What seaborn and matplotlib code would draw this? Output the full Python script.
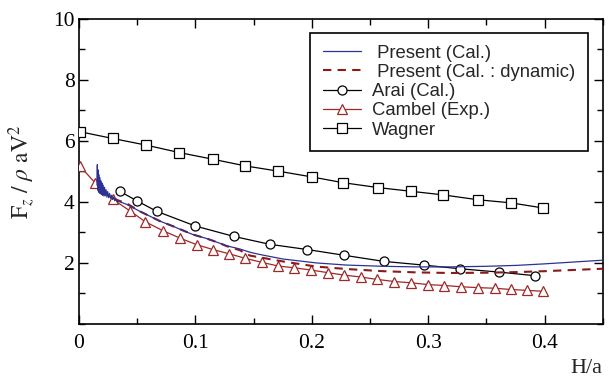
import matplotlib
matplotlib.use("Agg")
import matplotlib.pyplot as plt
import seaborn as sns
import pandas as pd
from matplotlib.ticker import MultipleLocator

# ---------------- data ----------------
present_x = [0.0155, 0.0158, 0.0161, 0.0164, 0.0167, 0.0170, 0.0174, 0.0178, 0.0182, 0.0187,
             0.0192, 0.0197, 0.0202, 0.0208, 0.0214, 0.0220, 0.0226, 0.0233, 0.0240, 0.0247,
             0.0255, 0.0263, 0.0271, 0.0280, 0.0289, 0.0298, 0.0308, 0.0318, 0.0328, 0.0340,
             0.041, 0.0524, 0.060, 0.0696, 0.081, 0.090, 0.098, 0.1097, 0.120,
             0.127, 0.138, 0.147, 0.155, 0.175, 0.204, 0.230, 0.261, 0.290, 0.319,
             0.350, 0.376, 0.400, 0.425, 0.450]
present_y = [4.55, 5.22, 4.40, 5.05, 4.35, 4.90, 4.30, 4.80, 4.28, 4.70,
             4.25, 4.62, 4.22, 4.55, 4.20, 4.48, 4.20, 4.40, 4.16, 4.34,
             4.14, 4.28, 4.12, 4.22, 4.08, 4.16, 4.04, 4.10, 4.00, 4.02,
             3.92, 3.69, 3.55, 3.37, 3.20, 3.05, 2.93, 2.80, 2.66,
             2.56, 2.46, 2.35, 2.28, 2.13, 2.00, 1.93, 1.89, 1.87, 1.87,
             1.89, 1.92, 1.97, 2.03, 2.09]

dynamic_x = [0.030, 0.041, 0.0524, 0.0696, 0.081, 0.098, 0.1097, 0.120, 0.127, 0.138,
             0.147, 0.175, 0.204, 0.230, 0.261, 0.290, 0.319, 0.350, 0.376, 0.400,
             0.425, 0.450]
dynamic_y = [4.10, 3.95, 3.69, 3.37, 3.20, 2.93, 2.80, 2.66, 2.55, 2.42,
             2.24, 2.05, 1.88, 1.80, 1.73, 1.69, 1.67, 1.68, 1.70, 1.73,
             1.77, 1.81]

arai_x = [0.035, 0.050, 0.067, 0.100, 0.133, 0.164, 0.196, 0.228, 0.262, 0.296, 0.327, 0.361, 0.392]
arai_y = [4.35, 4.03, 3.69, 3.21, 2.87, 2.61, 2.44, 2.25, 2.05, 1.93, 1.81, 1.70, 1.58]

cambel_x = [0.001, 0.014, 0.029, 0.044, 0.057, 0.072, 0.087, 0.101, 0.115, 0.129,
            0.143, 0.157, 0.171, 0.185, 0.199, 0.214, 0.228, 0.242, 0.256, 0.271,
            0.285, 0.300, 0.314, 0.328, 0.343, 0.357, 0.371, 0.385, 0.399]
cambel_y = [5.17, 4.62, 4.09, 3.70, 3.35, 3.06, 2.81, 2.60, 2.44, 2.30,
            2.15, 2.02, 1.90, 1.84, 1.77, 1.68, 1.60, 1.54, 1.46, 1.39,
            1.35, 1.29, 1.26, 1.22, 1.19, 1.17, 1.13, 1.10, 1.07]

wagner_x = [0.001, 0.029, 0.058, 0.086, 0.115, 0.143, 0.171, 0.200, 0.227, 0.257,
            0.285, 0.313, 0.343, 0.371, 0.399]
wagner_y = [6.30, 6.08, 5.86, 5.62, 5.40, 5.18, 5.01, 4.82, 4.63, 4.47,
            4.35, 4.23, 4.07, 3.97, 3.80]

x_ticks = [0, 0.1, 0.2, 0.3, 0.4]
x_ticklabels = ["0", "0.1", "0.2", "0.3", "0.4"]
y_ticks = [2, 4, 6, 8, 10]
y_ticklabels = ["2", "4", "6", "8", "10"]

# ---------------- style ----------------
sns.set_style("ticks")
plt.rcParams["font.family"] = ["Liberation Serif", "DejaVu Serif"]
plt.rcParams["mathtext.fontset"] = "stix"

BLUE = "#2E3192"
DRED = "#8B1A1A"
TRED = "#A02828"

fig = plt.figure(figsize=(6.12, 3.78), dpi=100)
ax = fig.add_axes([0.129, 0.143, 0.856, 0.807])

df_dyn = pd.DataFrame({"x": dynamic_x, "y": dynamic_y})
df_pre = pd.DataFrame({"x": present_x, "y": present_y})
df_arai = pd.DataFrame({"x": arai_x, "y": arai_y})
df_cam = pd.DataFrame({"x": cambel_x, "y": cambel_y})
df_wag = pd.DataFrame({"x": wagner_x, "y": wagner_y})

sns.lineplot(data=df_wag, x="x", y="y", ax=ax, sort=False, estimator=None,
             color="black", lw=0.9, marker="s", markersize=6.5,
             markerfacecolor="white", markeredgecolor="black", markeredgewidth=0.9,
             label="Wagner", zorder=3)
sns.lineplot(data=df_arai, x="x", y="y", ax=ax, sort=False, estimator=None,
             color="black", lw=0.9, marker="o", markersize=6.5,
             markerfacecolor="white", markeredgecolor="black", markeredgewidth=0.9,
             label="Arai (Cal.)", zorder=3)
sns.lineplot(data=df_cam, x="x", y="y", ax=ax, sort=False, estimator=None,
             color=TRED, lw=0.9, marker="^", markersize=6.5,
             markerfacecolor="white", markeredgecolor=TRED, markeredgewidth=0.9,
             label="Cambel (Exp.)", zorder=3)
sns.lineplot(data=df_dyn, x="x", y="y", ax=ax, sort=False, estimator=None,
             color=DRED, lw=1.5, linestyle=(0, (4, 3)),
             label=" Present (Cal. : dynamic)", zorder=4)
sns.lineplot(data=df_pre, x="x", y="y", ax=ax, sort=False, estimator=None,
             color=BLUE, lw=0.9, label=" Present (Cal.)", zorder=5)

ax.set_xlim(0, 0.45)
ax.set_ylim(0, 10)
ax.set_xticks(x_ticks)
ax.set_xticklabels(x_ticklabels)
ax.set_yticks(y_ticks)
ax.set_yticklabels(y_ticklabels)
ax.xaxis.set_minor_locator(MultipleLocator(0.05))
ax.yaxis.set_minor_locator(MultipleLocator(1))
ax.tick_params(which="both", direction="in", top=True, right=True,
               width=1.0, labelsize=15.5, colors="black")
ax.tick_params(which="major", length=6.5)
ax.tick_params(which="minor", length=4.3)
ax.tick_params(axis="x", pad=7)
ax.tick_params(axis="y", pad=3)
for s in ax.spines.values():
    s.set_linewidth(1.2)
    s.set_color("black")

ax.set_xlabel("H/a", fontsize=16)
ax.xaxis.set_label_coords(1.0, -0.115)
ax.xaxis.label.set_ha("right")
ax.set_ylabel(r"$\mathrm{F}_z\ /\ \rho\ \mathrm{aV}^2$", fontsize=17)
ax.yaxis.set_label_coords(-0.08, 0.5)

handles, labels = ax.get_legend_handles_labels()
order = [" Present (Cal.)", " Present (Cal. : dynamic)", "Arai (Cal.)", "Cambel (Exp.)", "Wagner"]
hmap = dict(zip(labels, handles))
leg = ax.legend([hmap[o] for o in order], order,
                loc="upper left", bbox_to_anchor=(0.442, 0.955),
                prop={"family": "Liberation Sans", "size": 13.3},
                frameon=True, fancybox=False, framealpha=1, edgecolor="black",
                handlelength=2.1, handletextpad=0.6, labelspacing=0.12,
                borderpad=0.65, borderaxespad=0, numpoints=1)
leg.get_frame().set_linewidth(1.2)

fig.savefig("out.png", dpi=100)
